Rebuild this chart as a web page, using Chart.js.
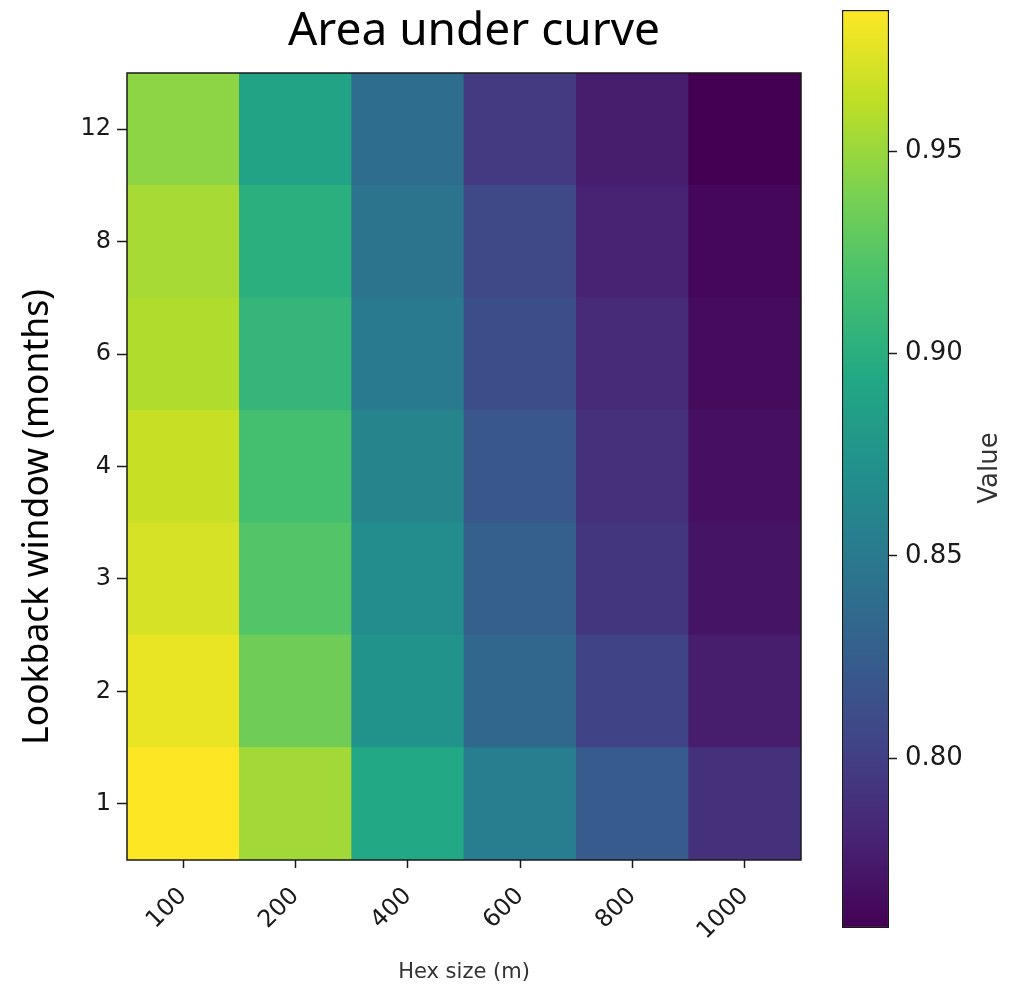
<!DOCTYPE html>
<html>
<head>
<meta charset="utf-8">
<script src="https://cdn.jsdelivr.net/npm/chart.js@4/dist/chart.umd.min.js"></script>
<style>
  html, body { margin: 0; padding: 0; background: #fff; }
  #wrap { position: relative; width: 1025px; height: 991px; }
  #heat { position: absolute; left: 0; top: 0; }
  #cbar { position: absolute; left: 830px; top: 0; }
</style>
</head>
<body>
<div id="wrap">
  <canvas id="heat" width="830" height="991"></canvas>
  <canvas id="cbar" width="195" height="991"></canvas>
</div>
<script>
// heatmap data, rows from bottom (1 month) to top (12 months)
const hexSizes = ["100", "200", "400", "600", "800", "1000"];
const lookbacks = ["1", "2", "3", "4", "6", "8", "12"];

const auc1 = [0.985, 0.953, 0.894, 0.853, 0.823, 0.789];
const auc2 = [0.978, 0.935, 0.873, 0.833, 0.803, 0.776];
const auc3 = [0.971, 0.923, 0.867, 0.826, 0.793, 0.770];
const auc4 = [0.966, 0.917, 0.860, 0.819, 0.789, 0.767];
const auc6 = [0.958, 0.907, 0.851, 0.812, 0.785, 0.765];
const auc8 = [0.955, 0.901, 0.844, 0.808, 0.780, 0.762];
const auc12 = [0.946, 0.889, 0.839, 0.796, 0.776, 0.758];

const aucRows = [auc1, auc2, auc3, auc4, auc6, auc8, auc12];
const colorTicks = [0.80, 0.85, 0.90, 0.95];

const allVals = aucRows.flat();
const vMin = Math.min(...allVals);
const vMax = Math.max(...allVals);

// viridis colormap stops
const VIRIDIS = ["#440154", "#482475", "#414487", "#355f8d", "#2a788e", "#21918c",
  "#22a884", "#44bf70", "#7ad151", "#bddf26", "#fde725"];

function hexToRgb(h) {
  return [parseInt(h.slice(1, 3), 16), parseInt(h.slice(3, 5), 16), parseInt(h.slice(5, 7), 16)];
}

function viridis(t) {
  t = Math.max(0, Math.min(1, t));
  const pos = t * (VIRIDIS.length - 1);
  const i = Math.min(Math.floor(pos), VIRIDIS.length - 2);
  const f = pos - i;
  const a = hexToRgb(VIRIDIS[i]);
  const b = hexToRgb(VIRIDIS[i + 1]);
  const c = a.map((v, k) => Math.round(v + (b[k] - v) * f));
  return "rgb(" + c.join(",") + ")";
}

function colorFor(v) {
  return viridis((v - vMin) / (vMax - vMin));
}

const TICK_FONT = { family: "DejaVu Sans", size: 24 };
const INK = "#1a1a1a";

const framePlugin = {
  id: "frame",
  afterDatasetsDraw(chart) {
    const { ctx, chartArea } = chart;
    ctx.save();
    ctx.strokeStyle = INK;
    ctx.lineWidth = 1.5;
    ctx.strokeRect(chartArea.left, chartArea.top,
      chartArea.right - chartArea.left, chartArea.bottom - chartArea.top);
    ctx.restore();
  },
  afterDraw(chart) {
    const { ctx } = chart;
    ctx.save();
    ctx.fillStyle = "#000";
    ctx.font = "46px 'Noto Sans'";
    ctx.textAlign = "center";
    ctx.textBaseline = "alphabetic";
    ctx.fillText("Area under curve", 474, 45);

    ctx.translate(38, 517);
    ctx.rotate(-Math.PI / 2);
    ctx.font = "35.5px 'Noto Sans'";
    ctx.textBaseline = "middle";
    ctx.fillText("Lookback window (months)", 0, 0);
    ctx.restore();
  },
};

const heatDatasets = aucRows.map((row, i) => ({
  label: lookbacks[i],
  data: row.map(() => [i, i + 1]),
  backgroundColor: row.map(colorFor),
  borderWidth: 0,
  barPercentage: 1,
  categoryPercentage: 1,
  grouped: false,
}));

new Chart(document.getElementById("heat"), {
  type: "bar",
  data: { labels: hexSizes, datasets: heatDatasets },
  plugins: [framePlugin],
  options: {
    responsive: false,
    animation: false,
    layout: { padding: { top: 73, right: 29, left: 0, bottom: 0 } },
    plugins: {
      legend: { display: false },
      tooltip: { enabled: false },
    },
    scales: {
      x: {
        afterFit: (scale) => { scale.height = 131; },
        grid: {
          offset: false,
          drawOnChartArea: false,
          drawTicks: true,
          tickLength: 8,
          tickWidth: 1.5,
          tickColor: INK,
        },
        border: { display: false },
        ticks: {
          font: TICK_FONT,
          color: INK,
          minRotation: 45,
          maxRotation: 45,
          padding: 14,
        },
        title: {
          display: true,
          text: "Hex size (m)",
          font: { family: "DejaVu Sans", size: 21 },
          color: "#333",
          padding: { top: 0, bottom: 6 },
        },
      },
      y: {
        type: "linear",
        min: 0,
        max: lookbacks.length,
        afterFit: (scale) => { scale.width = 127; },
        afterBuildTicks: (scale) => {
          scale.ticks = lookbacks.map((_, i) => ({ value: i + 0.5 }));
        },
        grid: {
          drawOnChartArea: false,
          drawTicks: true,
          tickLength: 10,
          tickWidth: 1.5,
          tickColor: INK,
        },
        border: { display: false },
        ticks: {
          font: TICK_FONT,
          color: INK,
          padding: 6,
          callback: (value, index) => lookbacks[index],
        },
      },
    },
  },
});

// colour bar
const valueLabelPlugin = {
  id: "valueLabel",
  afterDraw(chart) {
    const { ctx } = chart;
    ctx.save();
    ctx.fillStyle = "#333";
    ctx.font = "26px 'DejaVu Sans'";
    ctx.textAlign = "center";
    ctx.textBaseline = "middle";
    ctx.translate(160, 468);
    ctx.rotate(-Math.PI / 2);
    ctx.fillText("Value", 0, 0);
    ctx.restore();
  },
};

function barGradient(context) {
  const chart = context.chart;
  if (!chart.chartArea) return VIRIDIS[5];
  const y = chart.scales.y;
  const g = chart.ctx.createLinearGradient(0, y.getPixelForValue(vMin), 0, y.getPixelForValue(vMax));
  VIRIDIS.forEach((c, i) => g.addColorStop(i / (VIRIDIS.length - 1), c));
  return g;
}

new Chart(document.getElementById("cbar"), {
  type: "bar",
  data: {
    labels: [""],
    datasets: [{
      data: [[vMin, vMax]],
      backgroundColor: barGradient,
      borderColor: INK,
      borderWidth: 1.5,
      borderSkipped: false,
      barPercentage: 1,
      categoryPercentage: 1,
    }],
  },
  plugins: [valueLabelPlugin],
  options: {
    responsive: false,
    animation: false,
    layout: { padding: { top: 10, bottom: 63, left: 12, right: 0 } },
    plugins: {
      legend: { display: false },
      tooltip: { enabled: false },
    },
    scales: {
      x: { display: false },
      y: {
        type: "linear",
        position: "right",
        min: vMin,
        max: vMax,
        afterFit: (scale) => {
          scale.width = 136;
          scale.paddingTop = 0;
          scale.paddingBottom = 0;
        },
        afterBuildTicks: (scale) => {
          scale.ticks = colorTicks.map((v) => ({ value: v }));
        },
        grid: {
          drawOnChartArea: false,
          drawTicks: true,
          tickLength: 8,
          tickWidth: 1.5,
          tickColor: INK,
        },
        border: { display: false },
        ticks: {
          font: { family: "DejaVu Sans", size: 26 },
          color: INK,
          padding: 8,
          callback: (value) => value.toFixed(2),
        },
      },
    },
  },
});
</script>
</body>
</html>
